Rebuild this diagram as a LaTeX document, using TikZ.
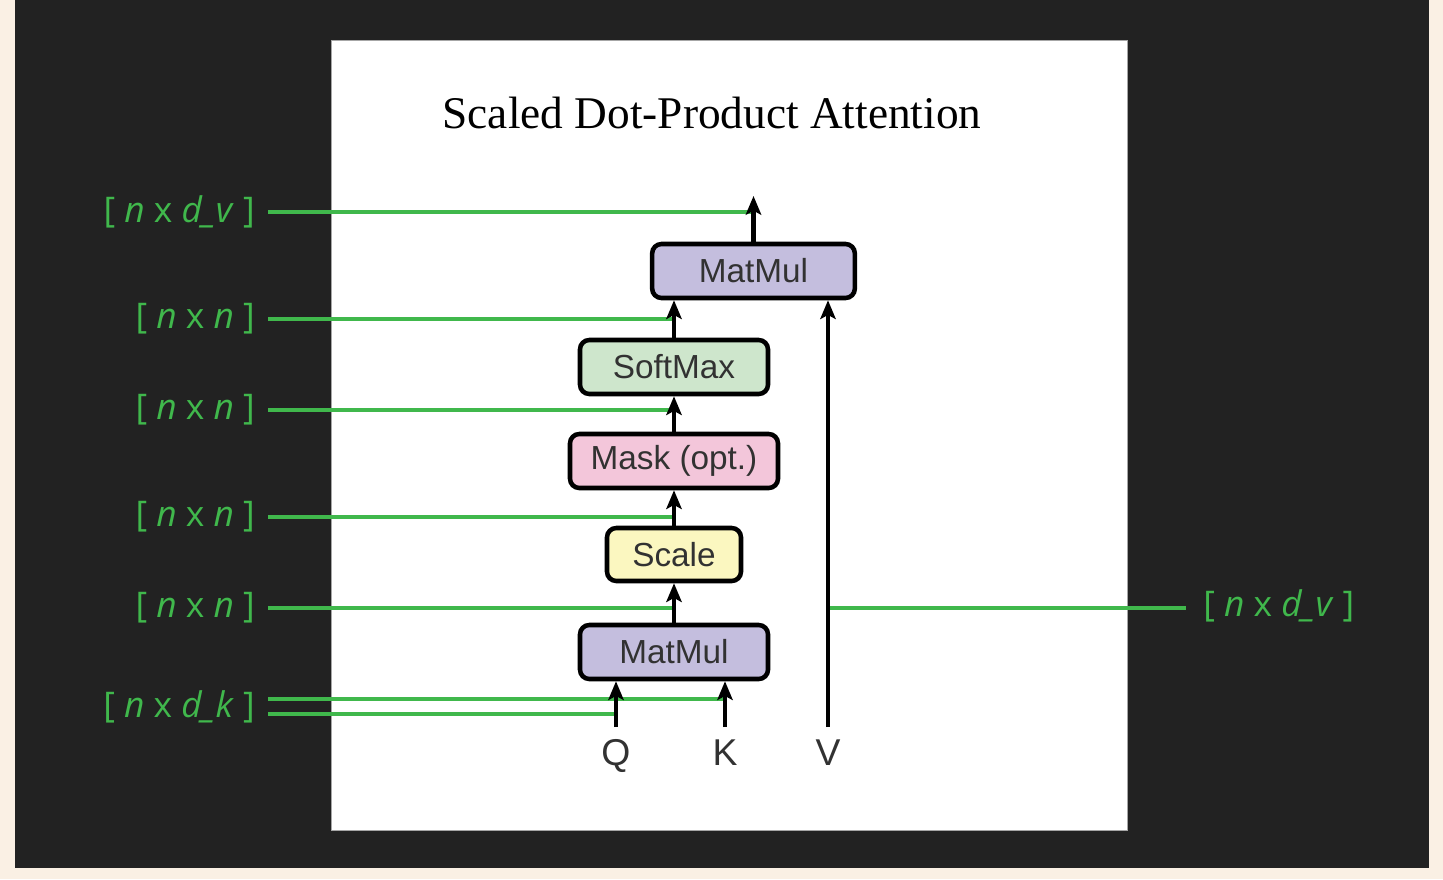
\documentclass[tikz,border=0pt]{standalone}
\usepackage{fontspec}
\setmainfont{Liberation Serif}
\setsansfont{Liberation Sans}
\newfontfamily\labfont{Open Sans}
\usetikzlibrary{arrows.meta}
\definecolor{cream}{RGB}{250,240,228}
\definecolor{darkbg}{RGB}{34,34,34}
\definecolor{glab}{RGB}{64,184,76}
\definecolor{lav}{RGB}{196,190,222}
\definecolor{mint}{RGB}{206,230,204}
\definecolor{pinkb}{RGB}{243,198,218}
\definecolor{yel}{RGB}{251,247,192}
\definecolor{txtg}{RGB}{50,50,50}
\begin{document}
\begin{tikzpicture}[x=0.75pt,y=-0.75pt,
  opbox/.style={draw=black, line width=3.4pt, rounded corners=7pt, minimum height=40.5pt,
    inner sep=0pt, font=\sffamily\fontsize{25}{30}\selectfont, text=txtg},
  blk/.style={draw=black, line width=3.4pt, -{Stealth[length=14pt,width=11.5pt,inset=3pt]}},
  gl/.style={draw=glab, line width=2.6pt},
  glabl/.style={font=\labfont\fontsize{26.5}{32}\selectfont, text=glab, inner ysep=0pt, inner xsep=9.75pt, anchor=east},
  glabr/.style={font=\labfont\fontsize{26.5}{32}\selectfont, text=glab, inner ysep=0pt, inner xsep=12.75pt, anchor=west},
  io/.style={font=\sffamily\fontsize{28}{32}\selectfont, text=txtg, inner sep=0pt, anchor=base}
]
\useasboundingbox (0,0) rectangle (1443,879);
\fill[cream] (0,0) rectangle (1443,879);
\fill[darkbg] (15,0) rectangle (1429,868);
\filldraw[fill=white, draw=gray!70, line width=0.75pt] (331,40) rectangle (1127,830);

\node[font=\rmfamily\fontsize{34}{40}\selectfont, text=black] (title) at (712,113) {Scaled Dot-Product Attention};

% boxes
\node[opbox, fill=lav, minimum width=152pt] (mm2) at (753.5,271) {MatMul};
\node[opbox, fill=mint, minimum width=141pt] (sm) at (674,367) {SoftMax};
\node[opbox, fill=pinkb, minimum width=156pt] (mask) at (674,461) {Mask (opt.)};
\node[opbox, fill=yel, minimum width=100.5pt, minimum height=39.75pt] (sc) at (674,554.5) {Scale};
\node[opbox, fill=lav, minimum width=141pt] (mm1) at (674,652) {MatMul};

% inputs
\node[io] (Q) at (616,765) {Q};
\node[io] (K) at (725,765) {K};
\node[io] (V) at (828,765) {V};
\coordinate (qs) at (616,727);
\coordinate (ks) at (725,727);
\coordinate (vs) at (828,727);
\coordinate (out) at (753.5,196);

% green labels
\node[glabl] (L1) at (268,212) {\raisebox{-2.5pt}{[ \textit{n} x \textit{d\_v} ]}};
\node[glabl] (L2) at (268,319) {\raisebox{-2.5pt}{[ \textit{n} x \textit{n} ]}};
\node[glabl] (L3) at (268,410) {\raisebox{-2.5pt}{[ \textit{n} x \textit{n} ]}};
\node[glabl] (L4) at (268,517) {\raisebox{-2.5pt}{[ \textit{n} x \textit{n} ]}};
\node[glabl] (L5) at (268,608) {\raisebox{-2.5pt}{[ \textit{n} x \textit{n} ]}};
\node[glabl] (L6) at (268,706.5) {\raisebox{-2.5pt}{[ \textit{n} x \textit{d\_k} ]}};
\coordinate (L6a) at (268,699);
\coordinate (L6b) at (268,714);
\node[glabr] (R1) at (1186,606) {\raisebox{-1.5pt}{[ \textit{n} x \textit{d\_v} ]}};
\coordinate (R1a) at (1186,608);

% green connectors
\draw[gl] (L1.east) -- (L1.east -| out);
\draw[gl] (L2.east) -- (L2.east -| sm.north);
\draw[gl] (L3.east) -- (L3.east -| sm.north);
\draw[gl] (L4.east) -- (L4.east -| sm.north);
\draw[gl] (L5.east) -- (L5.east -| sm.north);
\draw[gl] (L6a) -- (L6a -| ks);
\draw[gl] (L6b) -- (L6b -| qs);
\draw[gl] (R1a -| vs) -- (R1a);

% black arrows
\draw[blk] (mm2.north) -- (out);
\draw[blk] (sm.north) -- (sm.north |- mm2.south);
\draw[blk] (mask.north) -- (sm.south);
\draw[blk] (sc.north) -- (mask.south);
\draw[blk] (mm1.north) -- (sc.south);
\draw[blk] (qs) -- (qs |- mm1.south);
\draw[blk] (ks) -- (ks |- mm1.south);
\draw[blk] (vs) -- (vs |- mm2.south);
\end{tikzpicture}
\end{document}
